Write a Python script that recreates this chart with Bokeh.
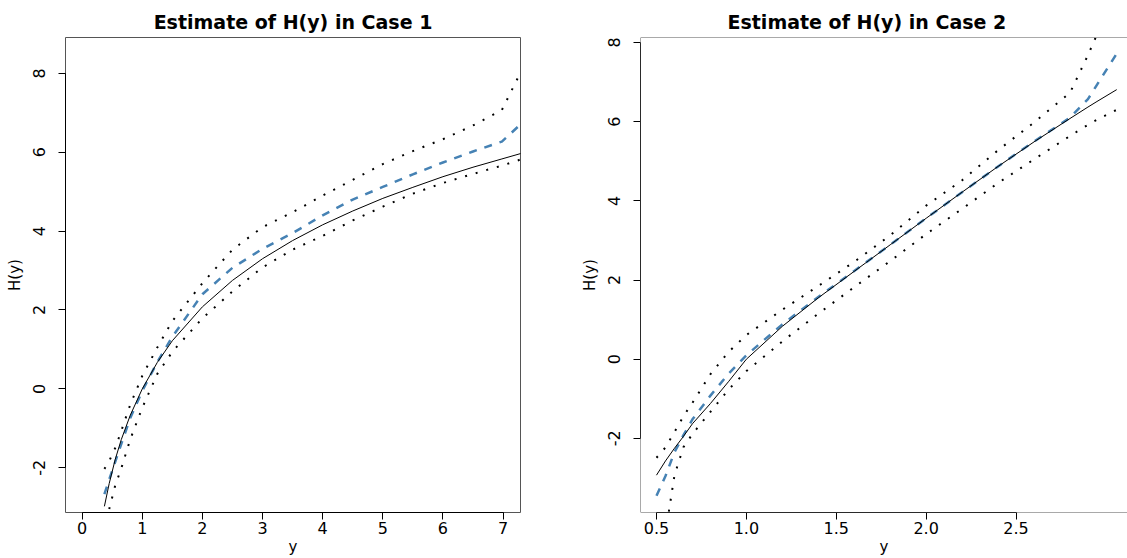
from bokeh.plotting import figure
from bokeh.layouts import row
from bokeh.models import FixedTicker, PrintfTickFormatter, Span, Range1d
from bokeh.embed import file_html
from bokeh.resources import INLINE

nan = float("nan")

# ---- Case 1 data ----
x1 = [0.37, 0.45, 0.55, 0.65, 0.8, 1.0, 1.25, 1.5, 2.0, 2.5, 3.0, 3.5, 4.0, 4.5, 5.0, 5.5, 6.0, 6.5, 6.98, 7.3]
true1 = [-2.98, -2.40, -1.79, -1.29, -0.67, 0.0, 0.67, 1.22, 2.08, 2.75, 3.30, 3.76, 4.16, 4.51, 4.83, 5.11, 5.38, 5.62, 5.83, 5.97]
est1 = [-2.67, -2.30, -1.85, -1.40, -0.74, -0.05, 0.68, 1.32, 2.40, 3.07, 3.55, 3.95, 4.40, 4.80, 5.12, 5.44, 5.74, 6.02, 6.27, 6.72]
upper1 = [-2.03, -1.83, -1.50, -1.07, -0.40, 0.33, 1.05, 1.72, 2.68, 3.53, 4.10, 4.48, 4.90, 5.30, 5.70, 6.03, 6.33, 6.68, 7.07, 8.05]
lower1 = [nan, -3.05, -2.45, -2.02, -1.28, -0.48, 0.38, 0.94, 1.79, 2.47, 3.08, 3.53, 3.88, 4.27, 4.62, 4.95, 5.22, 5.45, 5.66, 5.82]
xticks1 = [0, 1, 2, 3, 4, 5, 6, 7]
yticks1 = [-2, 0, 2, 4, 6, 8]

# ---- Case 2 data ----
x2 = [0.5, 0.55, 0.6, 0.65, 0.7, 0.8, 0.9, 1.0, 1.2, 1.4, 1.6, 1.8, 2.0, 2.2, 2.4, 2.6, 2.8, 2.9, 2.95, 3.06]
true2 = [-2.93, -2.57, -2.25, -1.95, -1.63, -1.12, -0.57, 0.0, 0.83, 1.55, 2.22, 2.89, 3.56, 4.22, 4.87, 5.49, 6.08, 6.37, 6.51, 6.81]
est2 = [-3.45, -2.95, -2.35, -1.92, -1.52, -0.92, -0.37, 0.10, 0.88, 1.57, 2.23, 2.89, 3.56, 4.22, 4.87, 5.50, 6.10, 6.57, 6.93, 7.72]
upper2 = [-2.49, -2.23, -1.84, -1.44, -1.10, -0.38, 0.18, 0.61, 1.25, 1.85, 2.46, 3.13, 3.88, 4.52, 5.28, 5.98, 6.73, 7.68, 8.20, nan]
lower2 = [nan, -4.4, -2.93, -2.22, -1.89, -1.33, -0.77, -0.30, 0.45, 1.15, 1.82, 2.48, 3.16, 3.80, 4.45, 5.05, 5.64, 5.92, 6.05, 6.30]
xticks2 = [0.5, 1.0, 1.5, 2.0, 2.5]
yticks2 = [-2, 0, 2, 4, 6, 8]

FONT = "DejaVu Sans"
BLUE = "#4682B4"


def panel(title, x, true, est, upper, lower, xr, yr, xticks, yticks, xfmt,
          width, bl, br, boxed, title_align, title_offset):
    p = figure(width=width, height=558, output_backend="svg", toolbar_location=None,
               x_range=Range1d(*xr), y_range=Range1d(*yr),
               min_border_left=bl, min_border_right=br, min_border_top=37,
               min_border_bottom=46)
    p.background_fill_color = "white"
    p.border_fill_color = "white"
    p.grid.visible = False
    p.title.text = title
    p.title.align = title_align
    p.title.offset = title_offset
    p.title.text_font = FONT
    p.title.text_font_size = "19px"
    p.title.text_font_style = "bold"
    p.title.text_color = "black"
    p.title.standoff = 10
    if boxed:
        p.outline_line_color = "#555555"
        p.outline_line_width = 1
    else:
        p.outline_line_color = None
        for loc, dim in ((yr[1], "width"), (yr[0], "width"), (xr[0], "height")):
            p.add_layout(Span(location=loc, dimension=dim, line_color="#555555", line_width=1))

    p.line(x, lower, line_color="black", line_width=2, line_dash="2 9")
    p.line(x, upper, line_color="black", line_width=2, line_dash="2 9")
    p.line(x, est, line_color=BLUE, line_width=2.5, line_dash="8 8")
    p.line(x, true, line_color="black", line_width=1)

    for ax, ticks in ((p.xaxis[0], xticks), (p.yaxis[0], yticks)):
        ax.ticker = FixedTicker(ticks=ticks)
        ax.bounds = (ticks[0], ticks[-1])
        ax.axis_line_color = "black"
        ax.major_tick_line_color = "black"
        ax.major_tick_out = 7
        ax.major_tick_in = 0
        ax.minor_tick_line_color = None
        ax.major_label_text_font = FONT
        ax.major_label_text_font_size = "16px"
        ax.major_label_text_color = "black"
        ax.axis_label_text_font = FONT
        ax.axis_label_text_font_size = "15px"
        ax.axis_label_text_font_style = "normal"
        ax.axis_label_text_color = "black"
    p.xaxis[0].formatter = PrintfTickFormatter(format=xfmt)
    p.yaxis[0].formatter = PrintfTickFormatter(format="%d")
    p.xaxis[0].axis_label = "y"
    p.yaxis[0].axis_label = "H(y)"
    p.xaxis[0].major_label_standoff = 2
    p.xaxis[0].axis_label_standoff = 1
    p.yaxis[0].major_label_orientation = "vertical"
    p.yaxis[0].major_label_standoff = 13
    p.yaxis[0].axis_label_standoff = 7
    return p


p1 = panel("Estimate of H(y) in Case 1", x1, true1, est1, upper1, lower1,
           (-0.277, 7.29), (-3.136, 8.91), xticks1, yticks1, "%d",
           563, 65, 43, True, "center", 0)
p2 = panel("Estimate of H(y) in Case 2", x2, true2, est2, upper2, lower2,
           (0.411, 3.12), (-3.873, 8.127), xticks2, yticks2, "%.1f",
           564, 77, 0, False, "left", 87)

layout = row(p1, p2, spacing=0)
open("out.html", "w").write(file_html(layout, INLINE))
